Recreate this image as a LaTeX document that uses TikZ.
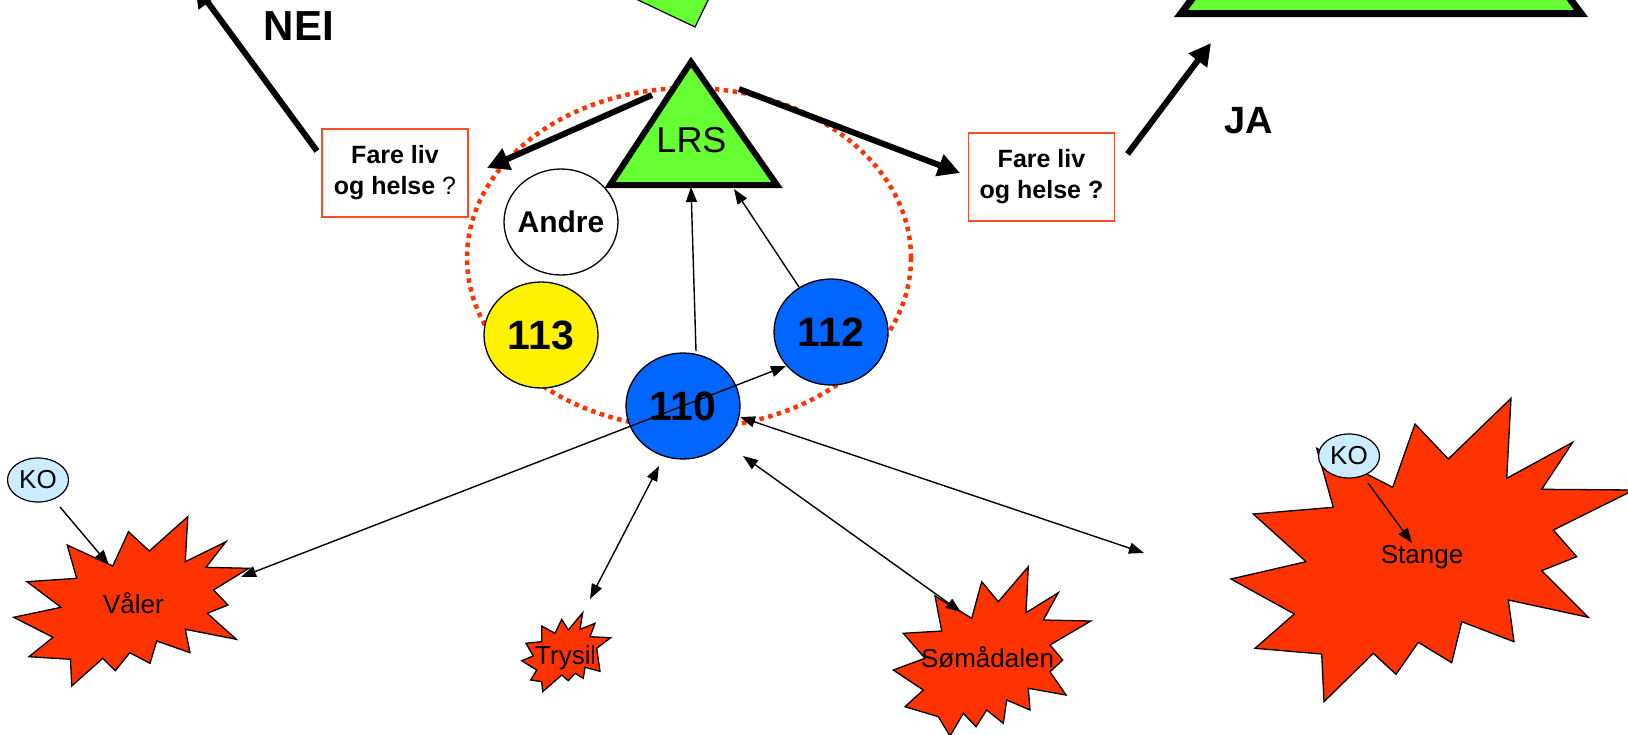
\documentclass[tikz,border=0pt]{standalone}
\usepackage{fontspec}
\setmainfont{Liberation Sans}
\usetikzlibrary{arrows.meta,shapes.geometric}
\definecolor{ored}{HTML}{FF3300}
\definecolor{lgreen}{HTML}{66FF33}
\definecolor{cblue}{HTML}{0066FF}
\definecolor{kob}{HTML}{CCECFF}
\definecolor{boxred}{HTML}{FF4A26}
\begin{document}
\begin{tikzpicture}[x=1pt,y=-1pt,
  circ/.style={ellipse,draw=black,line width=1.3pt,minimum width=114pt,minimum height=106pt,inner sep=0pt},
  numlbl/.style={inner sep=0pt,font=\fontsize{41}{48}\selectfont\bfseries},
  andrelbl/.style={inner sep=0pt,font=\fontsize{30}{36}\selectfont\bfseries},
  ko/.style={ellipse,draw=black,fill=kob,line width=1.2pt,minimum width=61pt,minimum height=44pt,inner sep=0pt,font=\fontsize{26}{30}\selectfont},
  starshape/.style={draw=black,fill=ored,line width=1.3pt,line join=miter},
  starlbl/.style={inner sep=0pt,font=\fontsize{26}{30}\selectfont},
  arr/.style={line width=1.4pt,-{Triangle[length=15pt,width=11pt]}},
  arrboth/.style={line width=1.4pt,{Triangle[length=15pt,width=11pt]}-{Triangle[length=15pt,width=11pt]}},
  bigarr/.style={line width=6pt,-{Triangle[length=22pt,width=22pt]}},
  qbox/.style={draw=boxred,line width=1.5pt,minimum width=146pt,minimum height=88pt,inner sep=0pt,align=center,font=\fontsize{25}{31}\selectfont\bfseries},
  neitxt/.style={inner sep=0pt,font=\fontsize{42}{48}\selectfont\bfseries}
]
\useasboundingbox (0,0) rectangle (1628,734);
\clip (0,0) rectangle (1628,734);

% dotted ring
\draw[ored,line width=4.5pt,dash pattern=on 4.5pt off 4.5pt] (689,258) ellipse [x radius=222pt,y radius=170pt];

% shapes cut by the top edge
\draw[fill=lgreen,line width=1.2pt] (617,-10) -- (695,27) -- (713,-10) -- cycle;
\draw[fill=lgreen,line width=7pt,line join=miter] (1181,13.5) -- (1581,13.5) -- (1381,-253) -- cycle;

% stars
\draw[starshape] (187.8,516.7) -- (185.3,561.7) -- (226,541.7) -- (206,567.3) -- (248.8,568.3) -- (213.5,590) -- (228,605) -- (207.3,613.3) -- (236.3,639.3) -- (185.3,629.3) -- (190,652.7) -- (156.7,641) -- (150,663.3) -- (129.8,652.7) -- (115.3,670.7) -- (102.8,658.3) -- (71.7,686) -- (70.5,659.3) -- (29,656.7) -- (53,637.3) -- (13.7,617.3) -- (61,607.3) -- (27,581.7) -- (76.7,578.3) -- (67.2,545) -- (112.8,566) -- (128.5,531.7) -- (149.3,551) -- cycle;
\draw[starshape] (582.7,612.7) -- (580,629.3) -- (595,623.3) -- (590,636.7) -- (610.7,637.7) -- (596.7,648.3) -- (600,671.3) -- (585,667.3) -- (583.3,678.3) -- (575,673.3) -- (568.3,680.7) -- (561.7,675) -- (542.7,691.7) -- (541.7,681.7) -- (530.7,680) -- (536.7,670) -- (521.7,660.7) -- (533.3,656) -- (526,643.3) -- (541.7,641.7) -- (541.7,626) -- (555,633.3) -- (561.7,619.3) -- (568.3,630) -- cycle;
\draw[starshape] (1028.3,566.7) -- (1026,612.7) -- (1058.3,592.7) -- (1043.3,620) -- (1090.7,621) -- (1050,645) -- (1062.7,660) -- (1050,671.7) -- (1066,695) -- (1028.3,688.3) -- (1030,710) -- (1006.7,700) -- (1003.3,723.3) -- (986.7,710) -- (976,726.7) -- (963.3,713.3) -- (950,736) -- (938.3,716.7) -- (905,706.7) -- (923.3,690) -- (893.3,670) -- (925,658.3) -- (903.3,633.3) -- (941.7,631) -- (935,596) -- (971.7,618.3) -- (981.7,581.7) -- (998.3,601.7) -- cycle;
\draw[starshape] (1511,398.3) -- (1506.7,478.3) -- (1572.7,442.3) -- (1541.7,489.3) -- (1634,490) -- (1553.3,530) -- (1576.7,556.7) -- (1541.7,570.7) -- (1588.3,617.3) -- (1508.3,600) -- (1514,641.7) -- (1461.7,621.7) -- (1451.7,662.7) -- (1418.3,642.3) -- (1396,674.3) -- (1373.3,653.3) -- (1324,701.7) -- (1321.7,654) -- (1255,648.3) -- (1294.3,614) -- (1231,579) -- (1306,561.7) -- (1253.3,514) -- (1333.3,507.3) -- (1316.7,448.3) -- (1392.7,487.3) -- (1415,424) -- (1448.3,459) -- cycle;

\node[starlbl,anchor=base] (valer) at (133.5,613) {Våler};
\begin{scope}
\clip (520,630) rectangle (593,692);
\node[starlbl,anchor=base west] (trysil) at (535,664) {Trysil};
\end{scope}
\node[starlbl,anchor=base] (soma) at (987.5,667) {Sømådalen};
\node[starlbl,anchor=base] (stange) at (1422,563) {Stange};

% LRS triangle
\draw[fill=lgreen,line width=6pt,line join=miter] (691,62) -- (610,185) -- (777,185) -- cycle;
\node[inner sep=0pt,font=\fontsize{36}{42}\selectfont] (lrs) at (691.5,140) {LRS};

% circles
\node[circ,fill=white,label={[andrelbl]center:Andre}] (andre) at (561,222) {};
\node[circ,fill=yellow,label={[numlbl]center:113}] (n113) at (541,335) {};
\node[circ,fill=cblue,label={[numlbl]center:112}] (n112) at (831,332) {};
\node[circ,fill=cblue,label={[numlbl]center:110}] (n110) at (683,406) {};

\node[ko] (koL) at (38,480) {KO};
\node[ko] (koR) at (1349,456) {KO};

% question boxes
\node[qbox] (boxL) at (395,173) {Fare liv\\og helse {\mdseries ?}};
\node[qbox] (boxR) at (1041.5,177) {Fare liv\\og helse ?};

\node[neitxt] (nei) at (299,26) {NEI};
\node[inner sep=0pt,font=\fontsize{38}{44}\selectfont\bfseries] (ja) at (1249,121) {JA};

% connector end points
\coordinate (neiS) at (317,151);
\coordinate (neiE) at (195,-15);
\coordinate (lrsL) at (652,95);
\coordinate (boxLin) at (487,168);
\coordinate (lrsR) at (739,89);
\coordinate (boxRin) at (960,173);
\coordinate (jaS) at (1127.5,154);
\coordinate (jaE) at (1211,43);
\coordinate (up110) at (696,351);
\coordinate (lrsB1) at (691,187);
\coordinate (up112) at (799,287);
\coordinate (lrsB2) at (734,189);
\coordinate (valerE) at (241,577);
\coordinate (n112E) at (786,366);
\coordinate (n110T) at (659,466);
\coordinate (trysilE) at (590,599);
\coordinate (n110S) at (743,456);
\coordinate (somaE) at (961,612);
\coordinate (n110R) at (740,417);
\coordinate (freeE) at (1144,553);
\coordinate (koLs) at (60,507);
\coordinate (valerK) at (109,565);
\coordinate (koRs) at (1368,483);
\coordinate (stangeK) at (1412,543);

\draw[bigarr] (neiS) -- (neiE);
\draw[bigarr] (lrsL) -- (boxLin);
\draw[bigarr] (lrsR) -- (boxRin);
\draw[bigarr] (jaS) -- (jaE);

\draw[arr] (up110) -- (lrsB1);
\draw[arr] (up112) -- (lrsB2);
\draw[arrboth] (valerE) -- (n112E);
\draw[arrboth] (n110T) -- (trysilE);
\draw[arrboth] (n110S) -- (somaE);
\draw[arrboth] (n110R) -- (freeE);
\draw[arr] (koLs) -- (valerK);
\draw[arr] (koRs) -- (stangeK);
\end{tikzpicture}
\end{document}
